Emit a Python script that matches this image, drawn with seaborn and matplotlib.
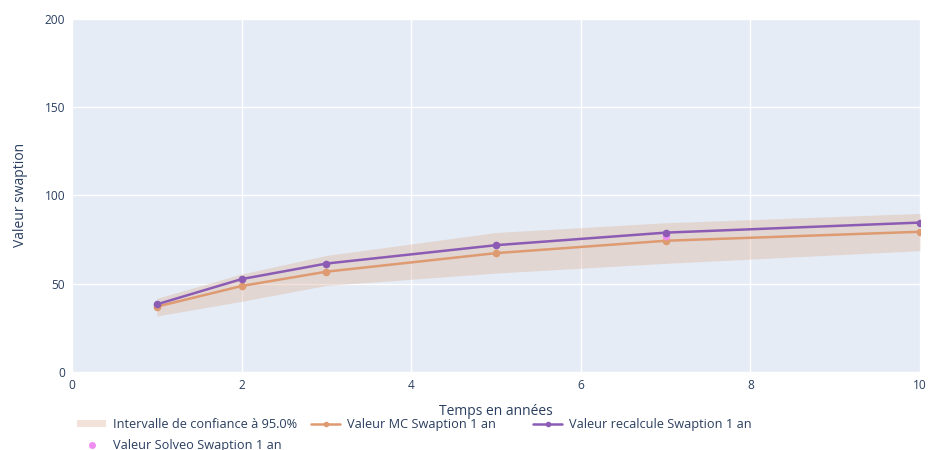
import matplotlib
matplotlib.use("Agg")
import matplotlib.pyplot as plt
import seaborn as sns
import pandas as pd
from matplotlib.lines import Line2D
from matplotlib.patches import Patch

# Maturities (years) and swaption values
years = [1, 2, 3, 5, 7, 10]
mc_values = [37.0, 48.7, 56.8, 67.3, 74.3, 79.4]
recalc_values = [38.3, 52.6, 61.4, 71.8, 78.9, 84.6]
ci_lower = [31.7, 40.0, 49.0, 56.0, 61.5, 68.7]
ci_upper = [41.7, 55.5, 66.0, 79.0, 84.5, 89.8]
solveo_years = [7]
solveo_values = [77.0]

labels = {
    "ci": "Intervalle de confiance à 95.0%",
    "mc": "Valeur MC Swaption 1 an",
    "recalc": "Valeur recalcule Swaption 1 an",
    "solveo": "Valeur Solveo Swaption 1 an",
}

TEXT = "#2a3f5f"
BG = "#e5ecf6"
C_BAND = (222 / 255, 180 / 255, 155 / 255, 0.38)
C_MC = "#de9a70"
C_RECALC = "#8c5cb4"
C_SOLVEO = "#f08cf0"

sns.set_style("white")
plt.rcParams["font.family"] = ["Open Sans", "DejaVu Sans"]

fig = plt.figure(figsize=(9.29, 4.5), dpi=100)
ax = fig.add_axes([0.0775, 0.1733, 0.9128, 0.7851])
ax.set_facecolor(BG)

df = pd.DataFrame({"x": years, "mc": mc_values, "recalc": recalc_values,
                   "lo": ci_lower, "hi": ci_upper})

ax.fill_between(df["x"], df["lo"], df["hi"], color=C_BAND, lw=0, zorder=2)
sns.lineplot(data=df, x="x", y="mc", ax=ax, color=C_MC, lw=1.8, marker="o",
             markersize=5.5, markeredgewidth=0, zorder=3)
sns.scatterplot(x=solveo_years, y=solveo_values, ax=ax, color=C_SOLVEO, s=30,
                linewidth=0, zorder=3.5)
sns.lineplot(data=df, x="x", y="recalc", ax=ax, color=C_RECALC, lw=1.8, marker="o",
             markersize=5.5, markeredgewidth=0, zorder=4)

ax.set_xlim(0, 10)
ax.set_ylim(0, 200)
ax.set_xticks([0, 2, 4, 6, 8, 10])
ax.set_yticks([0, 50, 100, 150, 200])
ax.grid(True, color="white", lw=1.0, zorder=0)
ax.set_axisbelow(True)
for s in ax.spines.values():
    s.set_visible(False)
ax.tick_params(length=0, labelsize=8.6, colors=TEXT, pad=5)
ax.set_xlabel("Temps en années", fontsize=10, color=TEXT, labelpad=9)
ax.set_ylabel("Valeur swaption", fontsize=10, color=TEXT, labelpad=12)

h_ci = Patch(facecolor=C_BAND, edgecolor="none")
h_mc = Line2D([], [], color=C_MC, lw=1.8, marker="o", markersize=4, markeredgewidth=0)
h_re = Line2D([], [], color=C_RECALC, lw=1.8, marker="o", markersize=4, markeredgewidth=0)
h_so = Line2D([], [], color=C_SOLVEO, lw=0, marker="o", markersize=5, markeredgewidth=0)

# Horizontal legend below the axes: one entry per slot, two rows
slots = [
    (h_ci, labels["ci"], 0.0829, 0.0556),
    (h_mc, labels["mc"], 0.3348, 0.0556),
    (h_re, labels["recalc"], 0.5737, 0.0556),
    (h_so, labels["solveo"], 0.0829, 0.0111),
]
for handle, text, x0, y0 in slots:
    leg = fig.legend([handle], [text], loc="center left", bbox_to_anchor=(x0, y0),
                     frameon=False, fontsize=9.2, handlelength=2.3, handleheight=0.45,
                     handletextpad=0.5, borderaxespad=0, borderpad=0)
    for t in leg.get_texts():
        t.set_color(TEXT)

fig.savefig("out.png", dpi=100, facecolor="white")
